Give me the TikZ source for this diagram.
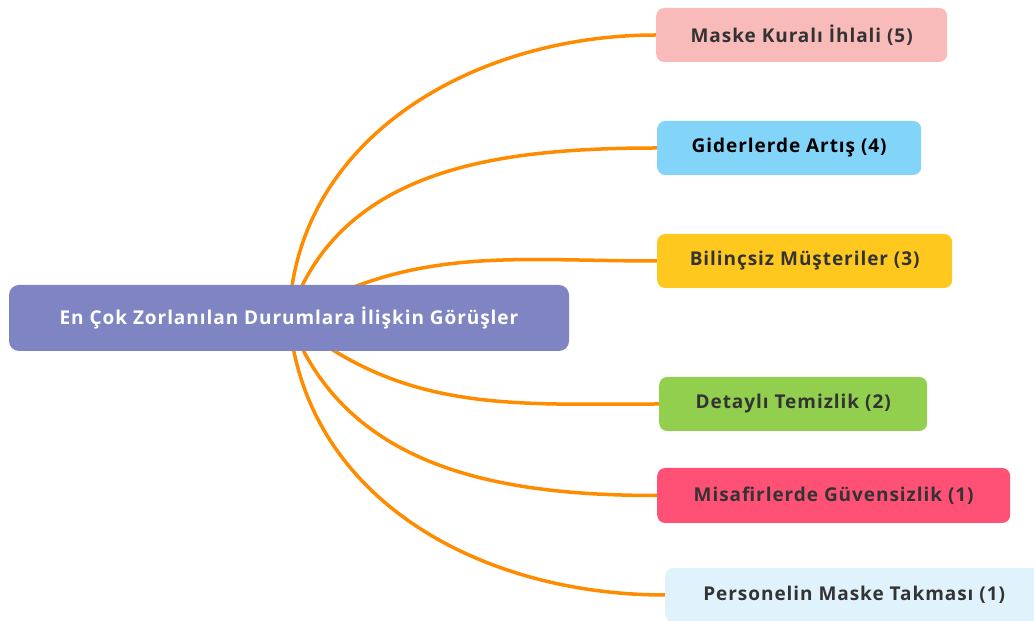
\documentclass[tikz,border=0pt]{standalone}
\usepackage{fontspec}
\setmainfont{Open Sans}
\newfontfamily\mapfont{Open Sans}[LetterSpace=5]
\usetikzlibrary{backgrounds}

\definecolor{linkorange}{HTML}{FF8C00}
\definecolor{topicblue}{HTML}{7F85C2}
\definecolor{leaftext}{HTML}{333333}
\definecolor{maskpink}{HTML}{F8BBBA}
\definecolor{costblue}{HTML}{82D4F9}
\definecolor{custyellow}{HTML}{FFC81E}
\definecolor{cleangreen}{HTML}{92CF4F}
\definecolor{guestred}{HTML}{FF5075}
\definecolor{staffblue}{HTML}{E0F3FC}

\begin{document}
\begin{tikzpicture}[x=1pt, y=1pt,
  topic/.style={fill=topicblue, rounded corners=10pt, inner sep=0pt,
    minimum width=560pt, minimum height=66pt, text=white,
    font=\mapfont\bfseries\fontsize{19}{22}\selectfont},
  leaf/.style={rounded corners=8pt, anchor=west, inner sep=0pt,
    minimum height=54pt, text=leaftext,
    font=\mapfont\bfseries\fontsize{19}{22}\selectfont},
  link/.style={draw=linkorange, line width=3.5pt, line cap=round}]
  \useasboundingbox (0,0) rectangle (1034,621);

  % Central topic
  \node[topic] (root) at (289,303) {En Çok Zorlanılan Durumlara İlişkin Görüşler};

  % Branches
  \node[leaf, fill=maskpink, minimum width=291pt] (mask) at (656,586) {Maske Kuralı İhlali (5)};
  \node[leaf, fill=costblue, minimum width=264pt, text=black] (cost) at (657,473) {Giderlerde Artış (4)};
  \node[leaf, fill=custyellow, minimum width=295pt] (cust) at (657,360) {Bilinçsiz Müşteriler (3)};
  \node[leaf, fill=cleangreen, minimum width=268pt] (clean) at (659,217) {Detaylı Temizlik (2)};
  \node[leaf, fill=guestred, minimum width=353pt, minimum height=55pt] (guest) at (657,125.5) {Misafirlerde Güvensizlik (1)};
  \node[leaf, fill=staffblue, minimum width=378pt] (staff) at (665,26) {Personelin Maske Takması (1)};

  % Links behind the nodes
  \begin{scope}[on background layer]
    \fill[white] (0,0) rectangle (1034,621);
    \draw[link] (root.center) to[out=88, in=180] (mask.west);
    \draw[link] (root.center) to[out=72, in=180] (cost.west);
    \draw[link] (root.center) to[out=30, in=180] (cust.west);
    \draw[link] (root.center) to[out=-40, in=180] (clean.west);
    \draw[link] (root.center) to[out=-70, in=180] (guest.west);
    \draw[link] (root.center) to[out=-85, in=180] (staff.west);
  \end{scope}
\end{tikzpicture}
\end{document}
